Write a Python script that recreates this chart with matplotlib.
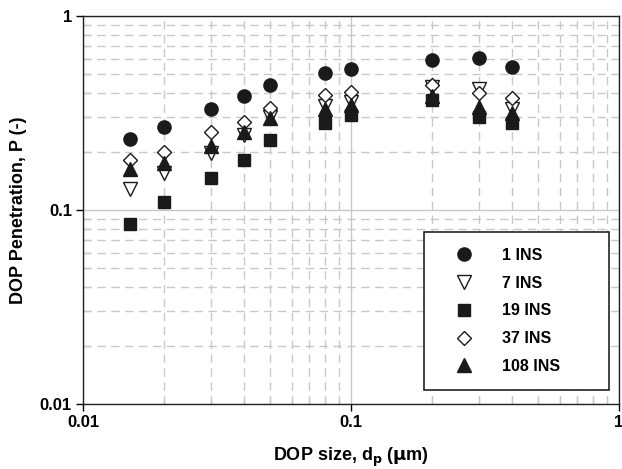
import matplotlib
matplotlib.use("Agg")
import matplotlib.pyplot as plt
from matplotlib.ticker import LogLocator, FixedLocator, FixedFormatter, NullFormatter

plt.rcParams['font.family'] = ['Liberation Sans', 'DejaVu Sans']
plt.rcParams['font.weight'] = 'bold'
plt.rcParams['mathtext.default'] = 'regular'

dp = [0.015, 0.02, 0.03, 0.04, 0.05, 0.08, 0.1, 0.2, 0.3, 0.4]
p_1ins = [0.231, 0.269, 0.333, 0.387, 0.439, 0.510, 0.531, 0.593, 0.607, 0.548]
p_7ins = [0.129, 0.156, 0.197, 0.245, 0.300, 0.345, 0.360, 0.430, 0.420, 0.330]
p_19ins = [0.0844, 0.1096, 0.146, 0.181, 0.230, 0.282, 0.309, 0.369, 0.303, 0.280]
p_37ins = [0.181, 0.200, 0.253, 0.285, 0.334, 0.392, 0.404, 0.441, 0.400, 0.377]
p_108ins = [0.162, 0.174, 0.214, 0.253, 0.299, 0.332, 0.348, 0.385, 0.340, 0.315]

labels = ['1 INS', '7 INS', '19 INS', '37 INS', '108 INS']
ytick_vals = [0.01, 0.1, 1]
ytick_labels = ['0.01', '0.1', '1']
xtick_vals = [0.01, 0.1, 1]
xtick_labels = ['0.01', '0.1', '1']

fig = plt.figure(figsize=(6.22, 4.69), dpi=100)
ax = fig.add_axes([83/622, 1 - 404/469, (619-83)/622, (404-16)/469])

ms = 9.5
ax.plot(dp, p_1ins, 'o', color='#1a1a1a', ms=ms, mec='#1a1a1a', label=labels[0], zorder=3)
ax.plot(dp, p_7ins, 'v', color='white', ms=ms, mec='#1a1a1a', mew=1.0, label=labels[1], zorder=3)
ax.plot(dp, p_19ins, 's', color='#1a1a1a', ms=ms - 1, mec='#1a1a1a', label=labels[2], zorder=3)
ax.plot(dp, p_37ins, 'D', color='white', ms=ms - 2, mec='#1a1a1a', mew=1.0, label=labels[3], zorder=3)
ax.plot(dp, p_108ins, '^', color='#1a1a1a', ms=ms, mec='#1a1a1a', label=labels[4], zorder=3)

ax.set_xscale('log')
ax.set_yscale('log')
ax.set_xlim(0.01, 1)
ax.set_ylim(0.01, 1)

ax.xaxis.set_major_locator(FixedLocator(xtick_vals))
ax.xaxis.set_major_formatter(FixedFormatter(xtick_labels))
ax.yaxis.set_major_locator(FixedLocator(ytick_vals))
ax.yaxis.set_major_formatter(FixedFormatter(ytick_labels))
ax.xaxis.set_minor_locator(LogLocator(base=10, subs=range(2, 10)))
ax.yaxis.set_minor_locator(LogLocator(base=10, subs=range(2, 10)))
ax.xaxis.set_minor_formatter(NullFormatter())
ax.yaxis.set_minor_formatter(NullFormatter())

ax.grid(True, which='major', color='#c8c8c8', linestyle='-', linewidth=1.0, zorder=0)
ax.grid(True, which='minor', color='#c8c8c8', linestyle=(0, (6, 4)), linewidth=1.0, zorder=0)
ax.set_axisbelow(True)

ax.tick_params(which='major', direction='out', length=5, width=1, labelsize=12, pad=3)
ax.tick_params(which='minor', direction='in', length=4, width=1, color='#c8c8c8')
for lab in ax.get_xticklabels() + ax.get_yticklabels():
    lab.set_fontweight('bold')

for s in ax.spines.values():
    s.set_linewidth(1.0)
    s.set_color('#222222')

ax.set_xlabel('DOP size, d$_\\mathbf{p}$ ($\\mathbf{\\mu}$m)', fontsize=13, fontweight='bold', labelpad=11)
ax.set_ylabel('DOP Penetration, P (-)', fontsize=13, fontweight='bold', labelpad=9)

leg = ax.legend(loc='lower left',
                bbox_to_anchor=(424/622, 1 - 390/469, (609-424)/622, 0.05),
                bbox_transform=fig.transFigure, mode='expand',
                fancybox=False, framealpha=1, edgecolor='#222222', fontsize=11.5,
                handletextpad=0.9, labelspacing=0.8, borderpad=1.0, handlelength=3.0,
                borderaxespad=0)
leg.get_frame().set_linewidth(1.2)
for t in leg.get_texts():
    t.set_fontweight('bold')

fig.savefig('out.png', dpi=100)
